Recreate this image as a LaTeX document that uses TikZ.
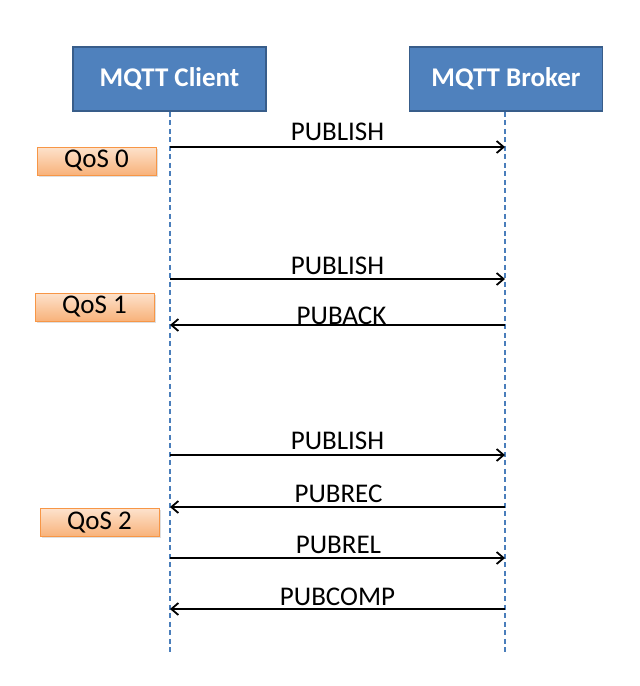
\documentclass[tikz,border=0pt]{standalone}
\usepackage{fontspec}
\setmainfont{Carlito}
\usetikzlibrary{arrows.meta,shadows}
\definecolor{boxblue}{HTML}{4F81BD}
\definecolor{boxblueline}{HTML}{385D8A}
\definecolor{qostop}{HTML}{FDE2CC}
\definecolor{qosbot}{HTML}{F8B27A}
\definecolor{qosline}{HTML}{F79646}
\definecolor{lifeblue}{HTML}{4A7EBB}
\begin{document}
\begin{tikzpicture}[x=1pt,y=-1pt,
  actor/.style={draw=boxblueline,line width=1.5pt,fill=boxblue,text=white,
    font=\fontsize{27}{31}\selectfont\bfseries,minimum width=193pt,minimum height=64pt,inner sep=0pt},
  qos/.style={draw=qosline,line width=1pt,top color=qostop,bottom color=qosbot,
    font=\fontsize{27}{31}\selectfont,minimum width=119pt,minimum height=28pt,inner sep=0pt,
    drop shadow={shadow xshift=1.5pt,shadow yshift=-1.5pt,opacity=0.25}},
  lifeline/.style={draw=lifeblue,line width=1.1pt,dash pattern=on 5pt off 3.5pt},
  msg/.style={draw=black,line width=1.8pt,-{Straight Barb[length=7pt,width=12pt,line width=1.8pt]}},
  lbl/.style={font=\fontsize{27}{31}\selectfont,inner sep=0pt}]
\useasboundingbox (0,0) rectangle (640,686);
\fill[white] (0,0) rectangle (640,686);
% actors
\node[actor] (client) at (169.5,79) {MQTT Client};
\node[actor] (broker) at (506,79) {MQTT Broker};
\coordinate (cend) at (170,655);
\coordinate (bend) at (505,655);
\draw[lifeline] (client.south -| cend) -- (cend);
\draw[lifeline] (broker.south -| bend) -- (bend);
% QoS labels
\node[qos] (q0) at (96.5,161) {QoS 0};
\node[qos] (q1) at (94.5,307) {QoS 1};
\node[qos] (q2) at (99.5,522.5) {QoS 2};
% message anchor points
\coordinate (c1) at (170,147); \coordinate (b1) at (505,147);
\coordinate (c2) at (170,279); \coordinate (b2) at (505,279);
\coordinate (c3) at (170,325); \coordinate (b3) at (505,325);
\coordinate (c4) at (170,455); \coordinate (b4) at (505,455);
\coordinate (c5) at (170,507); \coordinate (b5) at (505,507);
\coordinate (c6) at (170,558); \coordinate (b6) at (505,558);
\coordinate (c7) at (170,609); \coordinate (b7) at (505,609);
% messages
\draw[msg] (c1) -- node[lbl,midway,yshift=15pt] (m1) {PUBLISH} (b1);
\draw[msg] (c2) -- node[lbl,midway,yshift=13pt] (m2) {PUBLISH} (b2);
\draw[msg] (b3) -- node[lbl,midway,yshift=9pt,xshift=4pt] (m3) {PUBACK} (c3);
\draw[msg] (c4) -- node[lbl,midway,yshift=14pt] (m4) {PUBLISH} (b4);
\draw[msg] (b5) -- node[lbl,midway,yshift=13pt,xshift=1pt] (m5) {PUBREC} (c5);
\draw[msg] (c6) -- node[lbl,midway,yshift=13pt,xshift=1pt] (m6) {PUBREL} (b6);
\draw[msg] (b7) -- node[lbl,midway,yshift=12pt] (m7) {PUBCOMP} (c7);
\end{tikzpicture}
\end{document}
